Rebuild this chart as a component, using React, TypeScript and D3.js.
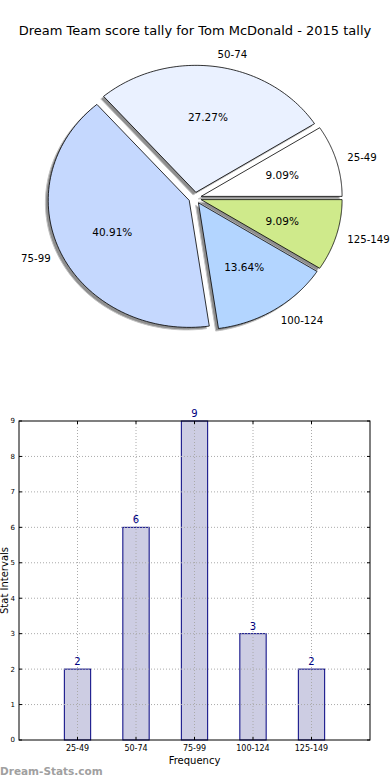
import { useEffect, useRef } from "react";
import * as d3 from "d3";

const title = "Dream Team score tally for Tom McDonald - 2015 tally";
const categories = ["25-49", "50-74", "75-99", "100-124", "125-149"];
const counts = [2, 6, 9, 3, 2];
const sliceColors = ["#ffffff", "#eaf1ff", "#c5d8fe", "#b3d5ff", "#cfea8b"];
const yTicks = [0, 1, 2, 3, 4, 5, 6, 7, 8, 9];

export default function App() {
  const svgRef = useRef<SVGSVGElement>(null);

  useEffect(() => {
    if (!svgRef.current) return;
    const width = 390;
    const height = 780;
    const font = "DejaVu Sans, sans-serif";

    const svg = d3.select(svgRef.current);
    svg.selectAll("*").remove();
    svg.attr("width", width).attr("height", height);

    svg
      .append("text")
      .attr("x", 195)
      .attr("y", 35)
      .attr("text-anchor", "middle")
      .attr("font-family", font)
      .attr("font-size", 13)
      .text(title);

    // pie: elliptical, every wedge exploded a little, with a shadow
    const cx = 195;
    const cy = 198;
    const rx = 141;
    const ry = 127;
    const explode = 0.045;
    const labelDist = 1.08;
    const total = d3.sum(counts);

    const angle = d3.scaleLinear().domain([0, total]).range([0, 2 * Math.PI]);
    const cum = d3.cumsum(counts);

    const slices = counts.map((v, i) => {
      const a0 = angle(cum[i] - v);
      const a1 = angle(cum[i]);
      const mid = (a0 + a1) / 2;
      const ox = cx + explode * rx * Math.cos(mid);
      const oy = cy - explode * ry * Math.sin(mid);
      return { v, i, a0, a1, mid, ox, oy };
    });

    const wedgePath = (ox: number, oy: number, a0: number, a1: number) => {
      const p = d3.path();
      p.moveTo(ox, oy);
      const steps = 80;
      for (let k = 0; k <= steps; k++) {
        const a = a0 + ((a1 - a0) * k) / steps;
        p.lineTo(ox + rx * Math.cos(a), oy - ry * Math.sin(a));
      }
      p.closePath();
      return p.toString();
    };

    const pie = svg.append("g");
    pie
      .selectAll("path.shadow")
      .data(slices)
      .enter()
      .append("path")
      .attr("class", "shadow")
      .attr("d", (d) => wedgePath(d.ox - 0.02 * rx, d.oy + 0.02 * ry, d.a0, d.a1))
      .attr("fill", "#8f8f8f")
      .attr("stroke", "#c4c4c4")
      .attr("stroke-width", 1);

    pie
      .selectAll("path.wedge")
      .data(slices)
      .enter()
      .append("path")
      .attr("class", "wedge")
      .attr("d", (d) => wedgePath(d.ox, d.oy, d.a0, d.a1))
      .attr("fill", (d) => sliceColors[d.i])
      .attr("stroke", "#000")
      .attr("stroke-width", 0.8)
      .attr("stroke-linejoin", "round");

    pie
      .selectAll("text.lbl")
      .data(slices)
      .enter()
      .append("text")
      .attr("class", "lbl")
      .attr("x", (d) => d.ox + labelDist * rx * Math.cos(d.mid))
      .attr("y", (d) => d.oy - 1.1 * ry * Math.sin(d.mid))
      .attr("dy", "0.35em")
      .attr("text-anchor", (d) => (Math.cos(d.mid) > 0 ? "start" : "end"))
      .attr("font-family", font)
      .attr("font-size", 10.2)
      .text((d) => categories[d.i]);

    pie
      .selectAll("text.pct")
      .data(slices)
      .enter()
      .append("text")
      .attr("class", "pct")
      .attr("x", (d) => d.ox + 0.6 * rx * Math.cos(d.mid))
      .attr("y", (d) => d.oy - 0.6 * ry * Math.sin(d.mid))
      .attr("dy", "0.35em")
      .attr("text-anchor", "middle")
      .attr("font-family", font)
      .attr("font-size", 10.5)
      .text((d) => ((d.v / total) * 100).toFixed(2) + "%");

    // bar chart
    const left = 19;
    const right = 370;
    const top = 421;
    const bottom = 740;

    const x = d3.scaleLinear().domain([-1, categories.length]).range([left, right]);
    const y = d3.scaleLinear().domain([0, 9]).range([bottom, top]);
    const barW = 0.45;

    const g = svg.append("g");

    g.selectAll("rect.bar")
      .data(counts)
      .enter()
      .append("rect")
      .attr("class", "bar")
      .attr("x", (_, i) => x(i - barW / 2))
      .attr("y", (d) => y(d))
      .attr("width", x(barW) - x(0))
      .attr("height", (d) => y(0) - y(d))
      .attr("fill", "#cdcde3")
      .attr("stroke", "#000080")
      .attr("stroke-width", 1);

    // grid drawn over the bars
    g.selectAll("line.hg")
      .data(yTicks.slice(1, -1))
      .enter()
      .append("line")
      .attr("x1", left)
      .attr("x2", right)
      .attr("y1", (d) => y(d))
      .attr("y2", (d) => y(d))
      .attr("stroke", "#aaaaaa")
      .attr("stroke-width", 1)
      .attr("stroke-dasharray", "1,2");

    g.selectAll("line.vg")
      .data(categories)
      .enter()
      .append("line")
      .attr("x1", (_, i) => x(i))
      .attr("x2", (_, i) => x(i))
      .attr("y1", top)
      .attr("y2", bottom)
      .attr("stroke", "#aaaaaa")
      .attr("stroke-width", 1)
      .attr("stroke-dasharray", "1,2");

    g.append("rect")
      .attr("x", left)
      .attr("y", top)
      .attr("width", right - left)
      .attr("height", bottom - top)
      .attr("fill", "none")
      .attr("stroke", "#000")
      .attr("stroke-width", 1);

    // ticks point inward on all four sides
    yTicks.forEach((t) => {
      g.append("line")
        .attr("x1", left).attr("x2", left + 3)
        .attr("y1", y(t)).attr("y2", y(t))
        .attr("stroke", "#000");
      g.append("line")
        .attr("x1", right - 3).attr("x2", right)
        .attr("y1", y(t)).attr("y2", y(t))
        .attr("stroke", "#000");
      g.append("text")
        .attr("x", left - 4)
        .attr("y", y(t))
        .attr("dy", "0.35em")
        .attr("text-anchor", "end")
        .attr("font-family", font)
        .attr("font-size", 7)
        .text(t);
    });
    categories.forEach((c, i) => {
      g.append("line")
        .attr("x1", x(i)).attr("x2", x(i))
        .attr("y1", bottom).attr("y2", bottom - 3)
        .attr("stroke", "#000");
      g.append("line")
        .attr("x1", x(i)).attr("x2", x(i))
        .attr("y1", top).attr("y2", top + 3)
        .attr("stroke", "#000");
      g.append("text")
        .attr("x", x(i))
        .attr("y", bottom + 8)
        .attr("dy", "0.35em")
        .attr("text-anchor", "middle")
        .attr("font-family", font)
        .attr("font-size", 8)
        .text(c);
    });

    g.selectAll("text.val")
      .data(counts)
      .enter()
      .append("text")
      .attr("class", "val")
      .attr("x", (_, i) => x(i))
      .attr("y", (d) => y(d) - 4)
      .attr("text-anchor", "middle")
      .attr("font-family", font)
      .attr("font-size", 10)
      .attr("fill", "#000080")
      .text((d) => d);

    g.append("text")
      .attr("x", (left + right) / 2)
      .attr("y", 764)
      .attr("text-anchor", "middle")
      .attr("font-family", font)
      .attr("font-size", 10)
      .text("Frequency");

    g.append("text")
      .attr("transform", `translate(8,${(top + bottom) / 2}) rotate(-90)`)
      .attr("text-anchor", "middle")
      .attr("font-family", font)
      .attr("font-size", 10)
      .text("Stat Intervals");

    svg
      .append("text")
      .attr("x", 0)
      .attr("y", 775)
      .attr("font-family", font)
      .attr("font-size", 10.5)
      .attr("font-weight", "bold")
      .attr("fill", "#a0a0a0")
      .text("Dream-Stats.com");
  }, []);

  return (
    <svg
      ref={svgRef}
      style={{ position: "absolute", left: 0, top: 0, background: "#fff" }}
    />
  );
}
